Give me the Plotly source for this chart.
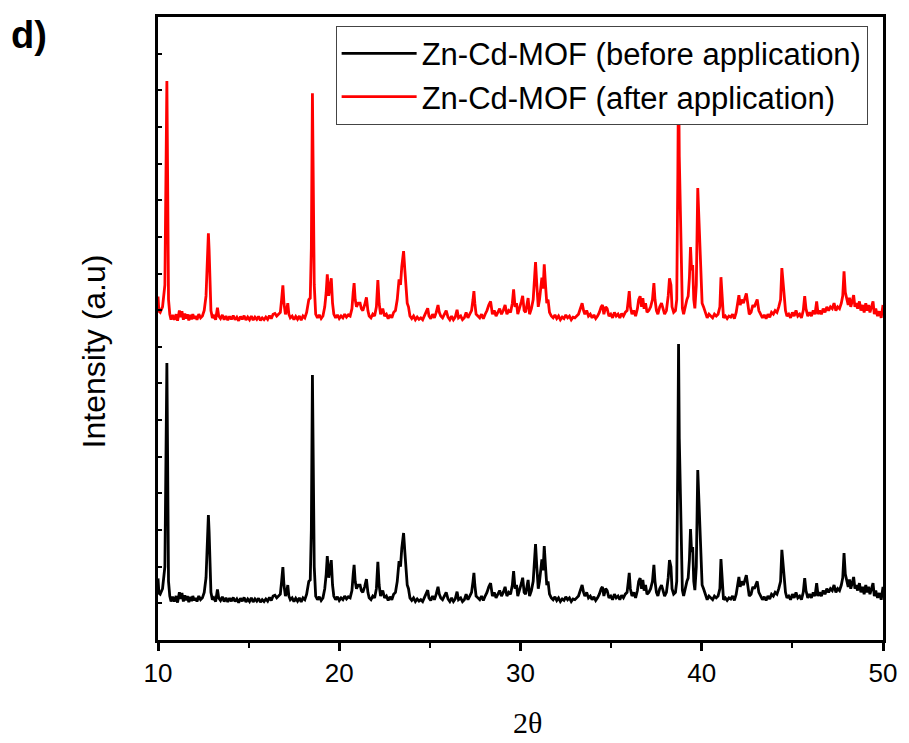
import plotly.graph_objects as go

# 2-theta positions (degrees)
two_theta = [
    10.00, 10.05, 10.12, 10.25, 10.38, 10.45, 10.49, 10.53, 10.58, 10.65, 10.72, 10.80, 10.90,
    11.00, 11.08, 11.18, 11.25, 11.32, 11.40, 11.48, 11.55, 11.62, 11.70, 11.78, 11.85, 11.92,
    12.00, 12.08, 12.15, 12.25, 12.35, 12.45, 12.55, 12.65, 12.72, 12.78, 12.82, 12.86, 12.92,
    13.00, 13.08, 13.18, 13.28, 13.35, 13.45, 13.55, 13.65, 13.75, 13.85, 13.95,
    14.05, 14.15, 14.25, 14.35, 14.45, 14.55, 14.65, 14.75, 14.85, 14.95,
    15.05, 15.15, 15.25, 15.35, 15.45, 15.55, 15.65, 15.75, 15.85, 15.95,
    16.05, 16.15, 16.25, 16.35, 16.45, 16.55, 16.65, 16.75, 16.82, 16.89, 16.95,
    17.03, 17.10, 17.16, 17.22, 17.30, 17.40, 17.50, 17.60, 17.70, 17.80, 17.90,
    18.00, 18.10, 18.20, 18.32, 18.40, 18.46, 18.52, 18.57, 18.62, 18.70, 18.80, 18.90,
    19.00, 19.10, 19.20, 19.28, 19.34, 19.42, 19.50, 19.56, 19.63, 19.70, 19.80, 19.90,
    20.00, 20.10, 20.20, 20.30, 20.40, 20.50, 20.60, 20.70, 20.77, 20.82, 20.88, 20.95,
    21.05, 21.15, 21.22, 21.30, 21.40, 21.50, 21.58, 21.65, 21.75, 21.85, 21.95,
    22.05, 22.13, 22.20, 22.28, 22.40, 22.50, 22.60, 22.70, 22.80, 22.90,
    23.00, 23.10, 23.20, 23.30, 23.38, 23.45, 23.55, 23.62, 23.68, 23.75, 23.82, 23.90,
    24.00, 24.10, 24.20, 24.30, 24.40, 24.50, 24.60, 24.70, 24.80, 24.88, 24.95,
    25.05, 25.15, 25.25, 25.35, 25.45, 25.52, 25.60, 25.70, 25.80, 25.90,
    26.00, 26.10, 26.20, 26.30, 26.40, 26.50, 26.58, 26.70, 26.80, 26.90,
    27.00, 27.10, 27.20, 27.30, 27.38, 27.43, 27.48, 27.55, 27.65, 27.75, 27.85, 27.95,
    28.05, 28.15, 28.25, 28.35, 28.45, 28.55, 28.65, 28.75, 28.85, 28.95,
    29.05, 29.15, 29.25, 29.35, 29.45, 29.55, 29.62, 29.70, 29.78, 29.85, 29.95,
    30.05, 30.12, 30.20, 30.28, 30.35, 30.42, 30.50, 30.60, 30.70, 30.78, 30.83, 30.90, 30.98,
    31.05, 31.12, 31.18, 31.25, 31.31, 31.38, 31.45, 31.52, 31.60, 31.70, 31.80, 31.90,
    32.00, 32.10, 32.20, 32.30, 32.40, 32.50, 32.60, 32.70, 32.80, 32.90,
    33.00, 33.10, 33.20, 33.30, 33.40, 33.48, 33.55, 33.65, 33.75, 33.85, 33.95,
    34.05, 34.15, 34.25, 34.35, 34.45, 34.52, 34.60, 34.70, 34.78, 34.88, 34.98,
    35.08, 35.18, 35.28, 35.38, 35.48, 35.58, 35.68, 35.78, 35.88, 35.95,
    36.00, 36.06, 36.15, 36.25, 36.35, 36.45, 36.52, 36.60, 36.68, 36.75, 36.82, 36.90, 36.98,
    37.08, 37.18, 37.28, 37.36, 37.42, 37.50, 37.58, 37.68, 37.78, 37.85, 37.95,
    38.05, 38.15, 38.22, 38.30, 38.36, 38.45, 38.55, 38.62, 38.68, 38.72, 38.76, 38.82, 38.88, 38.93,
    39.00, 39.08, 39.18, 39.25, 39.32, 39.38, 39.44, 39.50, 39.56, 39.62, 39.70, 39.78, 39.84, 39.90, 39.96,
    40.02, 40.10, 40.20, 40.30, 40.40, 40.50, 40.60, 40.70, 40.80, 40.90,
    41.00, 41.06, 41.12, 41.20, 41.30, 41.40, 41.50, 41.60, 41.70, 41.80, 41.90, 41.98,
    42.05, 42.12, 42.20, 42.30, 42.40, 42.46, 42.55, 42.62, 42.72, 42.82, 42.90,
    43.00, 43.06, 43.15, 43.25, 43.35, 43.45, 43.55, 43.65, 43.75, 43.85, 43.95,
    44.05, 44.15, 44.25, 44.35, 44.42, 44.48, 44.55, 44.62, 44.70, 44.80, 44.90,
    45.00, 45.10, 45.20, 45.30, 45.40, 45.50, 45.60, 45.68, 45.75, 45.85, 45.95,
    46.05, 46.15, 46.25, 46.34, 46.42, 46.50, 46.60, 46.70, 46.80, 46.90,
    47.00, 47.10, 47.20, 47.30, 47.40, 47.50, 47.60, 47.70, 47.78, 47.85, 47.92,
    48.00, 48.08, 48.15, 48.22, 48.30, 48.38, 48.45, 48.52, 48.60, 48.70, 48.78, 48.88, 48.96,
    49.05, 49.12, 49.20, 49.28, 49.36, 49.45, 49.52, 49.60, 49.70, 49.80, 49.90, 50.00,
]

# Intensity (a.u.) of Zn-Cd-MOF before application
before = [
    1.68, 1.28, 1.25, 1.40, 2.00, 5.00, 7.56, 5.00, 1.60, 1.20, 1.05, 1.18, 1.05,
    1.20, 1.02, 1.30, 1.12, 1.28, 1.05, 1.22, 1.08, 1.20, 1.03, 1.18, 1.06, 1.20,
    1.08, 1.15, 1.05, 1.20, 1.10, 1.15, 1.30, 1.70, 2.50, 3.41, 2.95, 2.00, 1.30,
    1.10, 1.15, 1.05, 1.38, 1.15, 1.08, 1.18, 1.05, 1.15, 1.04, 1.14,
    1.06, 1.16, 1.05, 1.12, 1.02, 1.14, 1.06, 1.16, 1.04, 1.12,
    1.05, 1.15, 1.04, 1.12, 1.06, 1.14, 1.03, 1.10, 1.05, 1.12,
    1.06, 1.16, 1.08, 1.20, 1.22, 1.15, 1.20, 1.25, 1.60, 1.99, 1.50,
    1.20, 1.30, 1.50, 1.20, 1.10, 1.15, 1.05, 1.14, 1.06, 1.15, 1.04,
    1.15, 1.10, 1.25, 1.60, 1.64, 3.00, 7.23, 5.24, 2.00, 1.20, 1.10, 1.18,
    1.08, 1.15, 1.40, 1.80, 2.29, 1.70, 2.00, 2.18, 1.50, 1.20, 1.10, 1.18,
    1.08, 1.15, 1.10, 1.20, 1.12, 1.18, 1.15, 1.35, 1.80, 2.05, 1.60, 1.40,
    1.50, 1.50, 1.35, 1.30, 1.45, 1.66, 1.30, 1.15, 1.10, 1.20, 1.15,
    1.40, 2.13, 1.50, 1.20, 1.35, 1.15, 1.20, 1.08, 1.18, 1.10,
    1.25, 1.30, 1.60, 2.15, 2.00, 2.50, 2.92, 2.40, 2.00, 1.50, 1.40, 1.15,
    1.08, 1.15, 1.05, 1.12, 1.06, 1.10, 1.05, 1.15, 1.28, 1.36, 1.15,
    1.08, 1.20, 1.10, 1.25, 1.45, 1.25, 1.15, 1.10, 1.20, 1.30,
    1.12, 1.05, 1.15, 1.05, 1.12, 1.32, 1.10, 1.15, 1.05, 1.10,
    1.25, 1.10, 1.20, 1.30, 1.60, 1.83, 1.50, 1.20, 1.15, 1.10, 1.20, 1.08,
    1.20, 1.30, 1.45, 1.55, 1.20, 1.30, 1.15, 1.25, 1.35, 1.20,
    1.30, 1.45, 1.20, 1.30, 1.25, 1.50, 1.88, 1.40, 1.50, 1.20, 1.35,
    1.55, 1.70, 1.30, 1.25, 1.50, 1.64, 1.20, 1.35, 1.60, 2.20, 2.62, 2.00, 1.40,
    1.60, 2.00, 2.20, 1.90, 2.56, 2.00, 1.50, 1.60, 1.25, 1.15, 1.10, 1.18,
    1.08, 1.15, 1.05, 1.12, 1.08, 1.18, 1.10, 1.15, 1.05, 1.12,
    1.10, 1.15, 1.20, 1.35, 1.50, 1.30, 1.20, 1.30, 1.15, 1.20, 1.10,
    1.18, 1.08, 1.15, 1.25, 1.40, 1.45, 1.20, 1.40, 1.35, 1.15, 1.20,
    1.10, 1.25, 1.15, 1.20, 1.10, 1.22, 1.15, 1.25, 1.30, 1.60,
    1.83, 1.40, 1.20, 1.30, 1.15, 1.35, 1.60, 1.69, 1.40, 1.64, 1.35, 1.50, 1.25,
    1.30, 1.40, 1.60, 2.05, 1.60, 1.30, 1.20, 1.40, 1.50, 1.35, 1.20,
    1.30, 1.70, 2.18, 2.00, 1.40, 1.25, 1.30, 1.60, 5.00, 8.08, 5.50, 3.96, 2.50, 1.36,
    1.20, 1.40, 1.60, 1.69, 2.20, 3.03, 2.40, 2.54, 1.60, 1.36, 2.00, 4.64, 3.80, 3.33, 2.20,
    1.50, 1.40, 1.25, 1.10, 1.20, 1.15, 1.10, 1.20, 1.15, 1.20,
    1.40, 2.21, 1.60, 1.10, 1.15, 1.08, 1.15, 1.12, 1.20, 1.08, 1.25, 1.50,
    1.72, 1.45, 1.60, 1.50, 1.70, 1.77, 1.45, 1.20, 1.25, 1.45, 1.40,
    1.55, 1.60, 1.30, 1.20, 1.10, 1.18, 1.08, 1.20, 1.12, 1.25, 1.20,
    1.30, 1.25, 1.40, 1.60, 2.46, 2.10, 1.77, 1.30, 1.15, 1.20, 1.10,
    1.25, 1.15, 1.30, 1.15, 1.20, 1.10, 1.30, 1.69, 1.35, 1.15, 1.25,
    1.15, 1.30, 1.20, 1.55, 1.20, 1.30, 1.20, 1.35, 1.25, 1.40,
    1.30, 1.40, 1.35, 1.50, 1.30, 1.40, 1.35, 1.50, 1.70, 2.37, 1.80,
    1.60, 1.45, 1.65, 1.40, 1.55, 1.72, 1.40, 1.50, 1.35, 1.55, 1.30, 1.45, 1.25,
    1.50, 1.30, 1.45, 1.25, 1.40, 1.55, 1.20, 1.35, 1.15, 1.28, 1.10, 1.45,
]

# Intensity (a.u.) of Zn-Cd-MOF after application
after = [
    1.68, 1.28, 1.25, 1.40, 2.00, 5.00, 7.56, 5.00, 1.60, 1.20, 1.05, 1.18, 1.05,
    1.20, 1.02, 1.30, 1.12, 1.28, 1.05, 1.22, 1.08, 1.20, 1.03, 1.18, 1.06, 1.20,
    1.08, 1.15, 1.05, 1.20, 1.10, 1.15, 1.30, 1.70, 2.50, 3.41, 2.95, 2.00, 1.30,
    1.10, 1.15, 1.05, 1.38, 1.15, 1.08, 1.18, 1.05, 1.15, 1.04, 1.14,
    1.06, 1.16, 1.05, 1.12, 1.02, 1.14, 1.06, 1.16, 1.04, 1.12,
    1.05, 1.15, 1.04, 1.12, 1.06, 1.14, 1.03, 1.10, 1.05, 1.12,
    1.06, 1.16, 1.08, 1.20, 1.22, 1.15, 1.20, 1.25, 1.60, 1.99, 1.50,
    1.20, 1.30, 1.50, 1.20, 1.10, 1.15, 1.05, 1.14, 1.06, 1.15, 1.04,
    1.15, 1.10, 1.25, 1.60, 1.64, 3.00, 7.23, 5.24, 2.00, 1.20, 1.10, 1.18,
    1.08, 1.15, 1.40, 1.80, 2.29, 1.70, 2.00, 2.18, 1.50, 1.20, 1.10, 1.18,
    1.08, 1.15, 1.10, 1.20, 1.12, 1.18, 1.15, 1.35, 1.80, 2.05, 1.60, 1.40,
    1.50, 1.50, 1.35, 1.30, 1.45, 1.66, 1.30, 1.15, 1.10, 1.20, 1.15,
    1.40, 2.13, 1.50, 1.20, 1.35, 1.15, 1.20, 1.08, 1.18, 1.10,
    1.25, 1.30, 1.60, 2.15, 2.00, 2.50, 2.92, 2.40, 2.00, 1.50, 1.40, 1.15,
    1.08, 1.15, 1.05, 1.12, 1.06, 1.10, 1.05, 1.15, 1.28, 1.36, 1.15,
    1.08, 1.20, 1.10, 1.25, 1.45, 1.25, 1.15, 1.10, 1.20, 1.30,
    1.12, 1.05, 1.15, 1.05, 1.12, 1.32, 1.10, 1.15, 1.05, 1.10,
    1.25, 1.10, 1.20, 1.30, 1.60, 1.83, 1.50, 1.20, 1.15, 1.10, 1.20, 1.08,
    1.20, 1.30, 1.45, 1.55, 1.20, 1.30, 1.15, 1.25, 1.35, 1.20,
    1.30, 1.45, 1.20, 1.30, 1.25, 1.50, 1.88, 1.40, 1.50, 1.20, 1.35,
    1.55, 1.70, 1.30, 1.25, 1.50, 1.64, 1.20, 1.35, 1.60, 2.20, 2.62, 2.00, 1.40,
    1.60, 2.00, 2.20, 1.90, 2.56, 2.00, 1.50, 1.60, 1.25, 1.15, 1.10, 1.18,
    1.08, 1.15, 1.05, 1.12, 1.08, 1.18, 1.10, 1.15, 1.05, 1.12,
    1.10, 1.15, 1.20, 1.35, 1.50, 1.30, 1.20, 1.30, 1.15, 1.20, 1.10,
    1.18, 1.08, 1.15, 1.25, 1.40, 1.45, 1.20, 1.40, 1.35, 1.15, 1.20,
    1.10, 1.25, 1.15, 1.20, 1.10, 1.22, 1.15, 1.25, 1.30, 1.60,
    1.83, 1.40, 1.20, 1.30, 1.15, 1.35, 1.60, 1.69, 1.40, 1.64, 1.35, 1.50, 1.25,
    1.30, 1.40, 1.60, 2.05, 1.60, 1.30, 1.20, 1.40, 1.50, 1.35, 1.20,
    1.30, 1.70, 2.18, 2.00, 1.40, 1.25, 1.30, 1.60, 5.00, 8.08, 5.50, 3.96, 2.50, 1.36,
    1.20, 1.40, 1.60, 1.69, 2.20, 3.03, 2.40, 2.54, 1.60, 1.36, 2.00, 4.64, 3.80, 3.33, 2.20,
    1.50, 1.40, 1.25, 1.10, 1.20, 1.15, 1.10, 1.20, 1.15, 1.20,
    1.40, 2.21, 1.60, 1.10, 1.15, 1.08, 1.15, 1.12, 1.20, 1.08, 1.25, 1.50,
    1.72, 1.45, 1.60, 1.50, 1.70, 1.77, 1.45, 1.20, 1.25, 1.45, 1.40,
    1.55, 1.60, 1.30, 1.20, 1.10, 1.18, 1.08, 1.20, 1.12, 1.25, 1.20,
    1.30, 1.25, 1.40, 1.60, 2.46, 2.10, 1.77, 1.30, 1.15, 1.20, 1.10,
    1.25, 1.15, 1.30, 1.15, 1.20, 1.10, 1.30, 1.69, 1.35, 1.15, 1.25,
    1.15, 1.30, 1.20, 1.55, 1.20, 1.30, 1.20, 1.35, 1.25, 1.40,
    1.30, 1.40, 1.35, 1.50, 1.30, 1.40, 1.35, 1.50, 1.70, 2.37, 1.80,
    1.60, 1.45, 1.65, 1.40, 1.55, 1.72, 1.40, 1.50, 1.35, 1.55, 1.30, 1.45, 1.25,
    1.50, 1.30, 1.45, 1.25, 1.40, 1.55, 1.20, 1.35, 1.15, 1.28, 1.10, 1.45,
]

series_names = ["Zn-Cd-MOF (before application)", "Zn-Cd-MOF (after application)"]
x_tick_values = [10, 20, 30, 40, 50]

# vertical stacking offset used for display of the second pattern
stack_offset = 7.69

fig = go.Figure()
fig.add_trace(go.Scatter(
    x=two_theta, y=before, mode="lines", name=series_names[0],
    line=dict(color="#000000", width=2.8),
))
fig.add_trace(go.Scatter(
    x=two_theta, y=[v + stack_offset for v in after], mode="lines", name=series_names[1],
    line=dict(color="#ff0000", width=2.8),
))

fig.update_layout(
    width=909, height=743,
    margin=dict(l=158, r=19, t=17, b=103),
    paper_bgcolor="white", plot_bgcolor="white",
    font=dict(family="Arial, Liberation Sans, sans-serif", color="black"),
    showlegend=True,
    legend=dict(
        x=0.245, y=0.986, xanchor="left", yanchor="top",
        bgcolor="white", bordercolor="#444444", borderwidth=1,
        font=dict(size=31, family="Arial, Liberation Sans, sans-serif", color="black"),
        itemwidth=75, tracegroupgap=0,
    ),
    xaxis=dict(
        range=[10, 50], tickvals=x_tick_values, ticks="outside", ticklen=8, tickwidth=2.5,
        tickcolor="black", showline=True, linewidth=3, linecolor="black", mirror=True,
        showgrid=False, zeroline=False,
        tickfont=dict(size=26, family="Arial, Liberation Sans, sans-serif"),
        minor=dict(dtick=5, tick0=10, ticks="outside", ticklen=5, tickwidth=2, tickcolor="black", showgrid=False),
    ),
    yaxis=dict(
        range=[0, 17], dtick=1, tick0=0, ticks="inside", ticklen=4, tickwidth=1.5, tickcolor="black",
        showticklabels=False, showline=True, linewidth=3, linecolor="black", mirror=True,
        showgrid=False, zeroline=False,
    ),
    annotations=[
        dict(
            text="<b>d)</b>", xref="paper", yref="paper", x=-0.205, y=1.008,
            xanchor="left", yanchor="top", showarrow=False,
            font=dict(size=38, family="Arial, Liberation Sans, sans-serif", color="black"),
        ),
        dict(
            text="Intensity (a.u)", xref="paper", yref="paper", x=-0.089, y=0.464,
            xanchor="center", yanchor="middle", textangle=-90, showarrow=False,
            font=dict(size=32, family="Arial, Liberation Sans, sans-serif", color="black"),
        ),
        dict(
            text="2θ", xref="paper", yref="paper", x=0.51, y=-0.132,
            xanchor="center", yanchor="middle", showarrow=False,
            font=dict(size=30, family="Times New Roman, Liberation Serif, serif", color="black"),
        ),
    ],
)

fig.write_html("out.html")
